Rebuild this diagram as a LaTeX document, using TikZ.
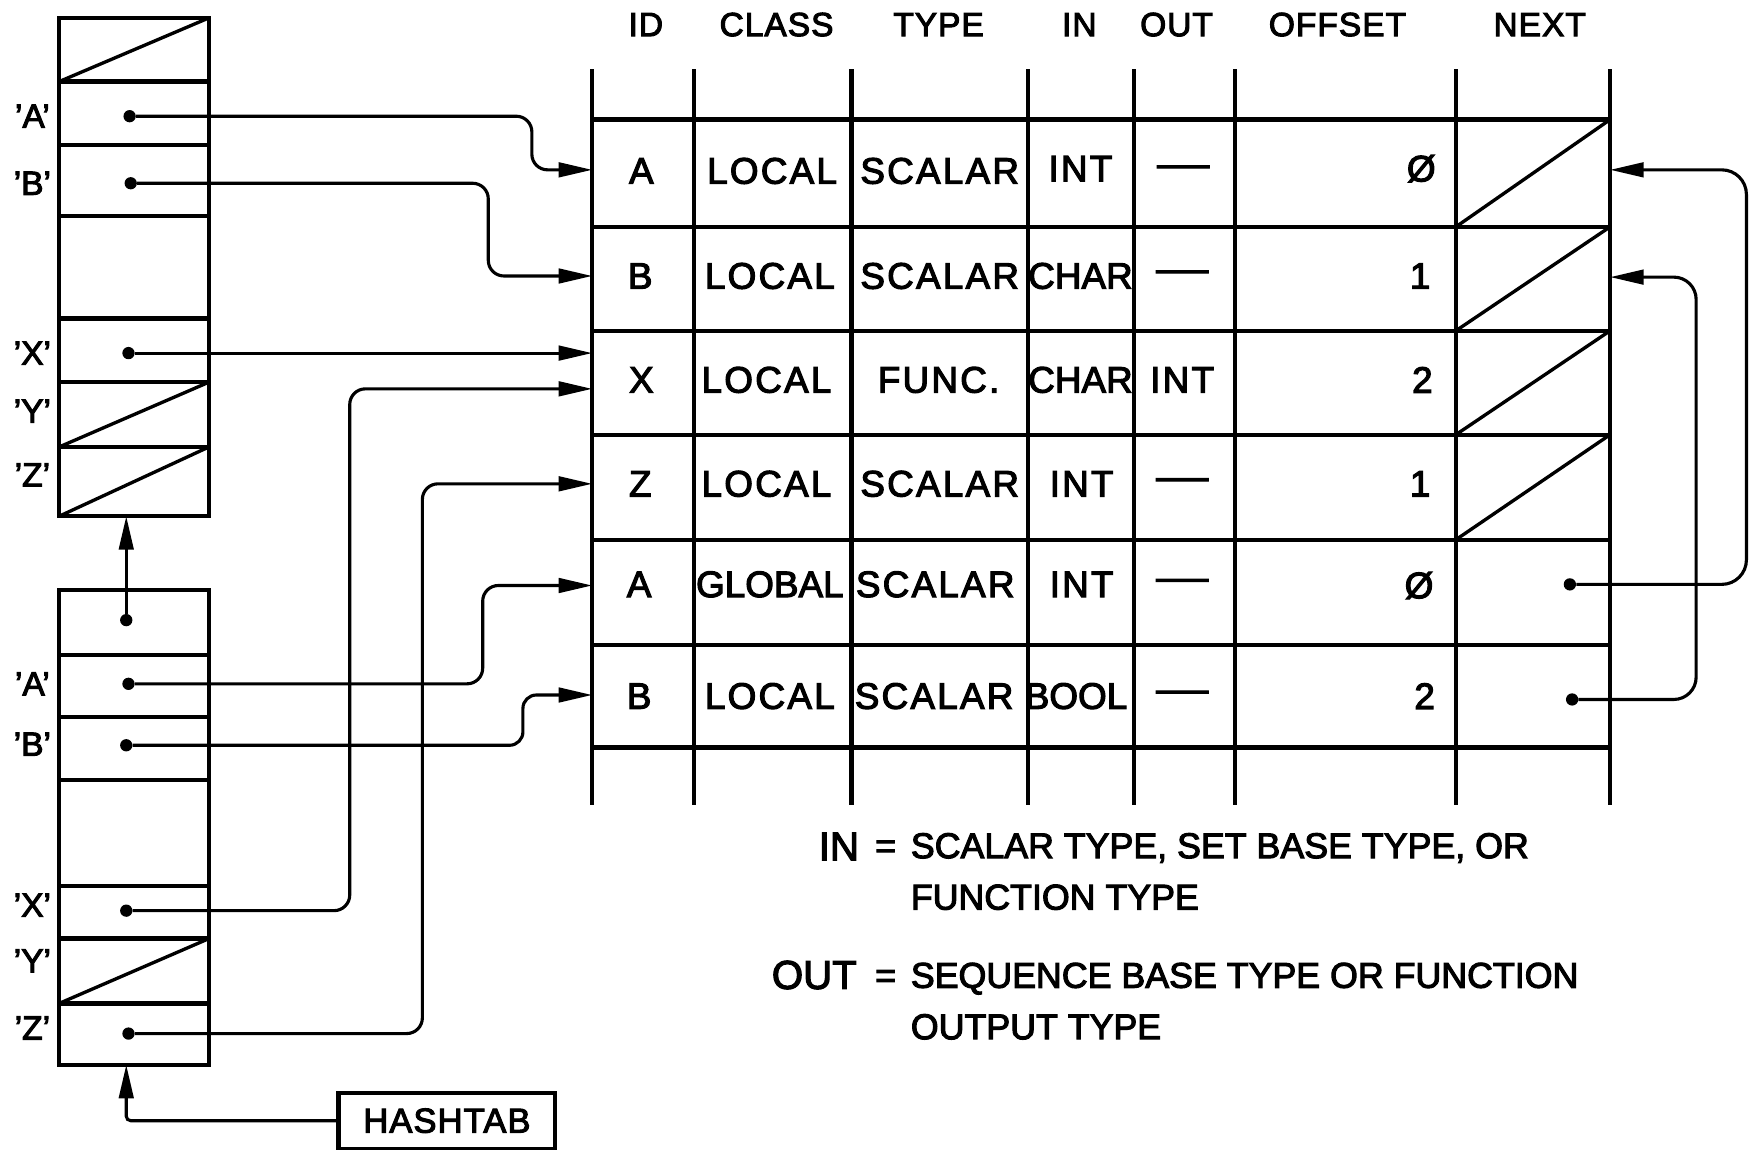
\documentclass[tikz,border=0pt]{standalone}
\usepackage{fontspec}
\setmainfont{Liberation Sans}[FakeBold=3]
\newfontfamily\spaced{Liberation Sans}[FakeBold=3, LetterSpace=6]
\newfontfamily\hspaced{Liberation Sans}[FakeBold=3, LetterSpace=3]
\usetikzlibrary{arrows.meta}
\begin{document}
\begin{tikzpicture}[x=1pt,y=-1pt,
  box/.style={draw, line width=3.8pt, minimum width=134pt, inner sep=0pt, outer sep=0pt},
  grid/.style={line width=3.8pt},
  conn/.style={line width=2.8pt, rounded corners=14pt},
  arr/.style={conn, -{Triangle[length=30pt,width=13pt]}},
  dot/.style={circle, fill, inner sep=0pt, minimum size=11pt},
  cell/.style={font=\fontsize{33}{36}\selectfont, inner sep=0pt},
  scell/.style={font=\spaced\fontsize{33}{36}\selectfont, inner sep=0pt},
  head/.style={font=\hspaced\fontsize{30}{34}\selectfont, inner sep=0pt},
  lab/.style={font=\fontsize{30}{34}\selectfont, inner sep=0pt},
  leg/.style={font=\fontsize{32}{36}\selectfont, inner sep=0pt, anchor=base west},
  legbig/.style={font=\fontsize{36}{40}\selectfont, inner sep=0pt, anchor=base east},
]
\useasboundingbox (0,0) rectangle (1568,1029);

% ---------- upper hash chain box ----------
\node[box, minimum height=57pt] (u0) at (120,44.5) {};
\node[box, minimum height=57pt] (uA) at (120,101.5) {};
\node[box, minimum height=63pt] (uB) at (120,161.5) {};
\node[box, minimum height=92pt] (ue) at (120,239) {};
\node[box, minimum height=57pt] (uX) at (120,313.5) {};
\node[box, minimum height=58pt] (uY) at (120,371) {};
\node[box, minimum height=62pt] (uZ) at (120,431) {};
\draw[line width=3pt] (u0.south west) -- (u0.north east);
\draw[line width=3pt] (uY.south west) -- (uY.north east);
\draw[line width=3pt] (uZ.south west) -- (uZ.north east);
\node[lab] (quA) at (29,104) {'A'};
\node[lab] (quB) at (29,164) {'B'};
\node[lab] (quX) at (29,316) {'X'};
\node[lab] (quY) at (29,368) {'Y'};
\node[lab] (quZ) at (29,425) {'Z'};
\node[dot] (duA) at (116,104) {};
\node[dot] (duB) at (117,164) {};
\node[dot] (duX) at (115,316) {};

% ---------- lower hash box ----------
\node[box, minimum height=58pt] (l0) at (120,557) {};
\node[box, minimum height=56pt] (lA) at (120,614) {};
\node[box, minimum height=56pt] (lB) at (120,670) {};
\node[box, minimum height=95pt] (le) at (120,745.5) {};
\node[box, minimum height=47pt] (lX) at (120,816.5) {};
\node[box, minimum height=58pt] (lY) at (120,869) {};
\node[box, minimum height=55pt] (lZ) at (120,925.5) {};
\draw[line width=3pt] (lY.south west) -- (lY.north east);
\node[lab] (qlA) at (29,612) {'A'};
\node[lab] (qlB) at (29,666) {'B'};
\node[lab] (qlX) at (29,810) {'X'};
\node[lab] (qlY) at (29,860) {'Y'};
\node[lab] (qlZ) at (29,920) {'Z'};
\node[dot] (dl0) at (113,555) {};
\node[dot] (dlA) at (115,612) {};
\node[dot] (dlB) at (113,667) {};
\node[dot] (dlX) at (113,815) {};
\node[dot] (dlZ) at (115,925) {};

% ---------- HASHTAB ----------
\node[draw, line width=3.8pt, minimum width=194pt, minimum height=50pt,
      font=\hspaced\fontsize{31}{34}\selectfont, inner sep=0pt] (hash) at (400,1003) {HASHTAB};

% ---------- symbol table grid ----------
\foreach \x in {530,621,762,920,1015,1105,1303,1441}
  \draw[grid] (\x,62) -- (\x,720);
\foreach \y in {107,203,296,389,483,577,669}
  \draw[grid] (530,\y) -- (1441,\y);
\foreach \b/\t in {203/107,296/203,389/296,483/389}
  \draw[line width=3pt] (1303,\b) -- (1441,\t);

% headers
\node[head] (hID)  at (578,22)  {ID};
\node[head] (hCL)  at (695,22)  {CLASS};
\node[head] (hTY)  at (840,22)  {TYPE};
\node[head] (hIN)  at (966,22)  {IN};
\node[head] (hOUT) at (1053,22) {OUT};
\node[head] (hOFF) at (1197,22) {OFFSET};
\node[head] (hNX)  at (1378,22) {NEXT};

% rows
\node[cell] (c11) at (574,153) {A};
\node[scell] (c12) at (691,153) {LOCAL};
\node[scell] (c13) at (841,153) {SCALAR};
\node[scell] (c14) at (967,151) {INT};
\node[cell] (c15) at (1059,153) {\scalebox{1.4}[1]{—}};
\node[cell] (c16) at (1272,151) {Ø};

\node[cell] (c21) at (573,247) {B};
\node[scell] (c22) at (689,247) {LOCAL};
\node[scell] (c23) at (841,247) {SCALAR};
\node[cell] (c24) at (967,247) {CHAR};
\node[cell] (c25) at (1058,247) {\scalebox{1.4}[1]{—}};
\node[cell] (c26) at (1271,247) {1};

\node[cell] (c31) at (574,340) {X};
\node[scell] (c32) at (686,340) {LOCAL};
\node[scell] (c33) at (840,340) {FUNC.};
\node[cell] (c34) at (967,340) {CHAR};
\node[scell] (c35) at (1058,340) {INT};
\node[cell] (c36) at (1273,340) {2};

\node[cell] (c41) at (573,433) {Z};
\node[scell] (c42) at (686,433) {LOCAL};
\node[scell] (c43) at (841,433) {SCALAR};
\node[scell] (c44) at (968,433) {INT};
\node[cell] (c45) at (1058,433) {\scalebox{1.4}[1]{—}};
\node[cell] (c46) at (1271,433) {1};

\node[cell] (c51) at (572,523) {A};
\node[cell] (c52) at (689,523) {GLOBAL};
\node[scell] (c53) at (837,523) {SCALAR};
\node[scell] (c54) at (968,523) {INT};
\node[cell] (c55) at (1058,523) {\scalebox{1.4}[1]{—}};
\node[cell] (c56) at (1270,524) {Ø};
\node[dot] (dn5) at (1405,523) {};

\node[cell] (c61) at (572,623) {B};
\node[scell] (c62) at (689,623) {LOCAL};
\node[scell] (c63) at (836,623) {SCALAR};
\node[cell] (c64) at (963,623) {BOOL};
\node[cell] (c65) at (1058,623) {\scalebox{1.4}[1]{—}};
\node[cell] (c66) at (1275,623) {2};
\node[dot] (dn6) at (1407,626) {};

% arrow targets on table edges
\coordinate (tA)  at (530,152);
\coordinate (tB)  at (530,247);
\coordinate (tX1) at (530,316);
\coordinate (tX2) at (530,348);
\coordinate (tZ)  at (530,433);
\coordinate (tGA) at (530,524);
\coordinate (tLB) at (530,622);
\coordinate (rA)  at (1441,152);
\coordinate (rB)  at (1441,248);

% ---------- connectors ----------
\draw[arr] (duA) -| (476,152) -- (tA);
\draw[arr] (duB) -| (437,247) -- (tB);
\draw[arr] (duX) -- (tX1);
\draw[arr] (dlX) -| (313,348) -- (tX2);
\draw[arr] (dlZ) -| (378,433) -- (tZ);
\draw[arr] (dlA) -| (432,524) -- (tGA);
\draw[arr, rounded corners=12pt] (dlB) -| (468,622) -- (tLB);
\draw[arr] (dl0) -- (dl0 |- uZ.south);
\draw[arr, rounded corners=4pt] (hash.west) -| (dl0 |- lZ.south);
\draw[arr, rounded corners=22pt] (dn5) -| (1563,152) -- (rA);
\draw[arr, rounded corners=20pt] (dn6) -| (1518,248) -- (rB);

% ---------- legend ----------
\node[legbig] (lgIN) at (769,770) {IN};
\node[leg] (lgEq1) at (783,768) {=};
\node[leg] (lg1) at (815,768) {SCALAR TYPE, SET BASE TYPE, OR};
\node[leg] (lg2) at (815,814) {FUNCTION TYPE};
\node[legbig] (lgOUT) at (767,885) {OUT};
\node[leg] (lgEq2) at (783,884) {=};
\node[leg] (lg3) at (815,884) {SEQUENCE BASE TYPE OR FUNCTION};
\node[leg] (lg4) at (815,930) {OUTPUT TYPE};
\end{tikzpicture}
\end{document}
